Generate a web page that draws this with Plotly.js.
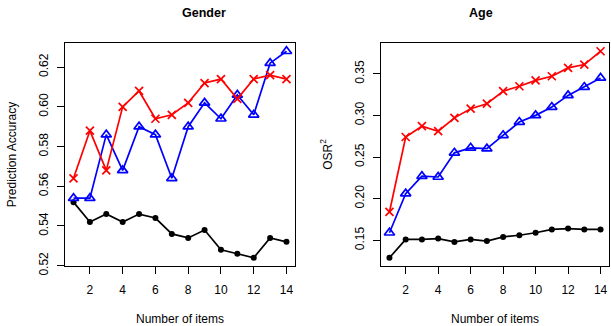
<!DOCTYPE html>
<html>
<head>
<meta charset="utf-8">
<script src="https://cdn.plot.ly/plotly-3.0.1.min.js"></script>
<style>html,body{margin:0;padding:0;background:#fff}#chart{width:611px;height:326px}</style>
</head>
<body>
<div id="chart"></div>
<script>
const items = [1,2,3,4,5,6,7,8,9,10,11,12,13,14];
const xTicks = [2,4,6,8,10,12,14];

const genderRed   = [0.564,0.588,0.568,0.600,0.608,0.594,0.596,0.602,0.612,0.614,0.604,0.614,0.616,0.614];
const genderBlue  = [0.554,0.554,0.586,0.568,0.590,0.586,0.564,0.590,0.602,0.594,0.606,0.596,0.622,0.628];
const genderBlack = [0.552,0.542,0.546,0.542,0.546,0.544,0.536,0.534,0.538,0.528,0.526,0.524,0.534,0.532];
const genderTicks = [0.52,0.54,0.56,0.58,0.60,0.62];
const genderTickText = ["0.52","0.54","0.56","0.58","0.60","0.62"];

const ageRed   = [0.184,0.274,0.287,0.281,0.297,0.308,0.314,0.329,0.335,0.342,0.347,0.357,0.361,0.377];
const ageBlue  = [0.159,0.206,0.227,0.226,0.255,0.261,0.260,0.276,0.292,0.300,0.310,0.324,0.334,0.345];
const ageBlack = [0.129,0.151,0.151,0.152,0.148,0.151,0.149,0.154,0.156,0.159,0.163,0.164,0.163,0.163];
const ageTicks = [0.15,0.20,0.25,0.30,0.35];
const ageTickText = ["0.15","0.20","0.25","0.30","0.35"];

function rRange(arr){ const mn=Math.min(...arr), mx=Math.max(...arr), p=(mx-mn)*0.04; return [mn-p, mx+p]; }

const redStyle = {color:'#ff0000', width:1.7};
const blueStyle = {color:'#0000ff', width:1.7};
const blackStyle = {color:'#000000', width:1.7};
const redMarker = {symbol:'x-thin-open', size:8, color:'#ff0000', line:{color:'#ff0000', width:1.7}};
const blueMarker = {symbol:'triangle-up-open', size:9, color:'#0000ff', line:{color:'#0000ff', width:1.7}};
const blackMarker = {symbol:'circle', size:6, color:'#000000'};

function trio(xa, ya, r, b, k){
  return [
    {x:items, y:k, xaxis:xa, yaxis:ya, mode:'lines+markers', line:blackStyle, marker:blackMarker, showlegend:false, cliponaxis:false},
    {x:items, y:b, xaxis:xa, yaxis:ya, mode:'lines+markers', line:blueStyle, marker:blueMarker, showlegend:false, cliponaxis:false},
    {x:items, y:r, xaxis:xa, yaxis:ya, mode:'lines+markers', line:redStyle, marker:redMarker, showlegend:false, cliponaxis:false}
  ];
}

const data = [].concat(
  trio('x','y', genderRed, genderBlue, genderBlack),
  trio('x2','y2', ageRed, ageBlue, ageBlack)
);

const fnt = {family:'Liberation Sans, Arial, sans-serif', size:12, color:'#000'};
const xr = rRange(items);

function xaxis(domain, anchor){
  return {domain:domain, anchor:anchor, range:xr, tickmode:'array', tickvals:xTicks, ticktext:xTicks.map(String),
    showgrid:false, zeroline:false, showline:true, mirror:true, linecolor:'#000', linewidth:1,
    ticks:'outside', ticklen:7, tickwidth:1, tickcolor:'#000', tickfont:fnt, ticklabelstandoff:6,
    title:{text:'Number of items', font:fnt, standoff:20}};
}
function yaxis(anchor, range, tv, tt, title){
  return {domain:[0,1], anchor:anchor, range:range, tickmode:'array', tickvals:tv, ticktext:tt,
    showgrid:false, zeroline:false, showline:true, mirror:true, linecolor:'#000', linewidth:1,
    ticks:'outside', ticklen:7, tickwidth:1, tickcolor:'#000', tickfont:fnt, tickangle:-90, ticklabelstandoff:4,
    title:{text:title, font:fnt, standoff:18}};
}

const titleFont = {family:fnt.family, size:12.5, color:'#000'};
const layout = {
  width:611, height:326,
  margin:{l:65, r:2, t:43, b:60},
  paper_bgcolor:'#fff', plot_bgcolor:'#fff',
  font:fnt,
  xaxis: xaxis([0, 0.4228], 'y'),
  yaxis: yaxis('x', rRange(genderRed.concat(genderBlue, genderBlack)), genderTicks, genderTickText, 'Prediction Accuracy'),
  xaxis2: xaxis([0.5809, 1], 'y2'),
  yaxis2: yaxis('x2', rRange(ageRed.concat(ageBlue, ageBlack)), ageTicks, ageTickText, 'OSR<sup>2</sup>'),
  annotations:[
    {text:'<b>Gender</b>', xref:'paper', yref:'paper', x:0.2114, y:1, yanchor:'middle', yshift:30, showarrow:false, font:titleFont},
    {text:'<b>Age</b>', xref:'paper', yref:'paper', x:0.7904, y:1, yanchor:'middle', yshift:30, showarrow:false, font:titleFont}
  ]
};

Plotly.newPlot('chart', data, layout, {displayModeBar:false, staticPlot:true});
</script>
</body>
</html>
